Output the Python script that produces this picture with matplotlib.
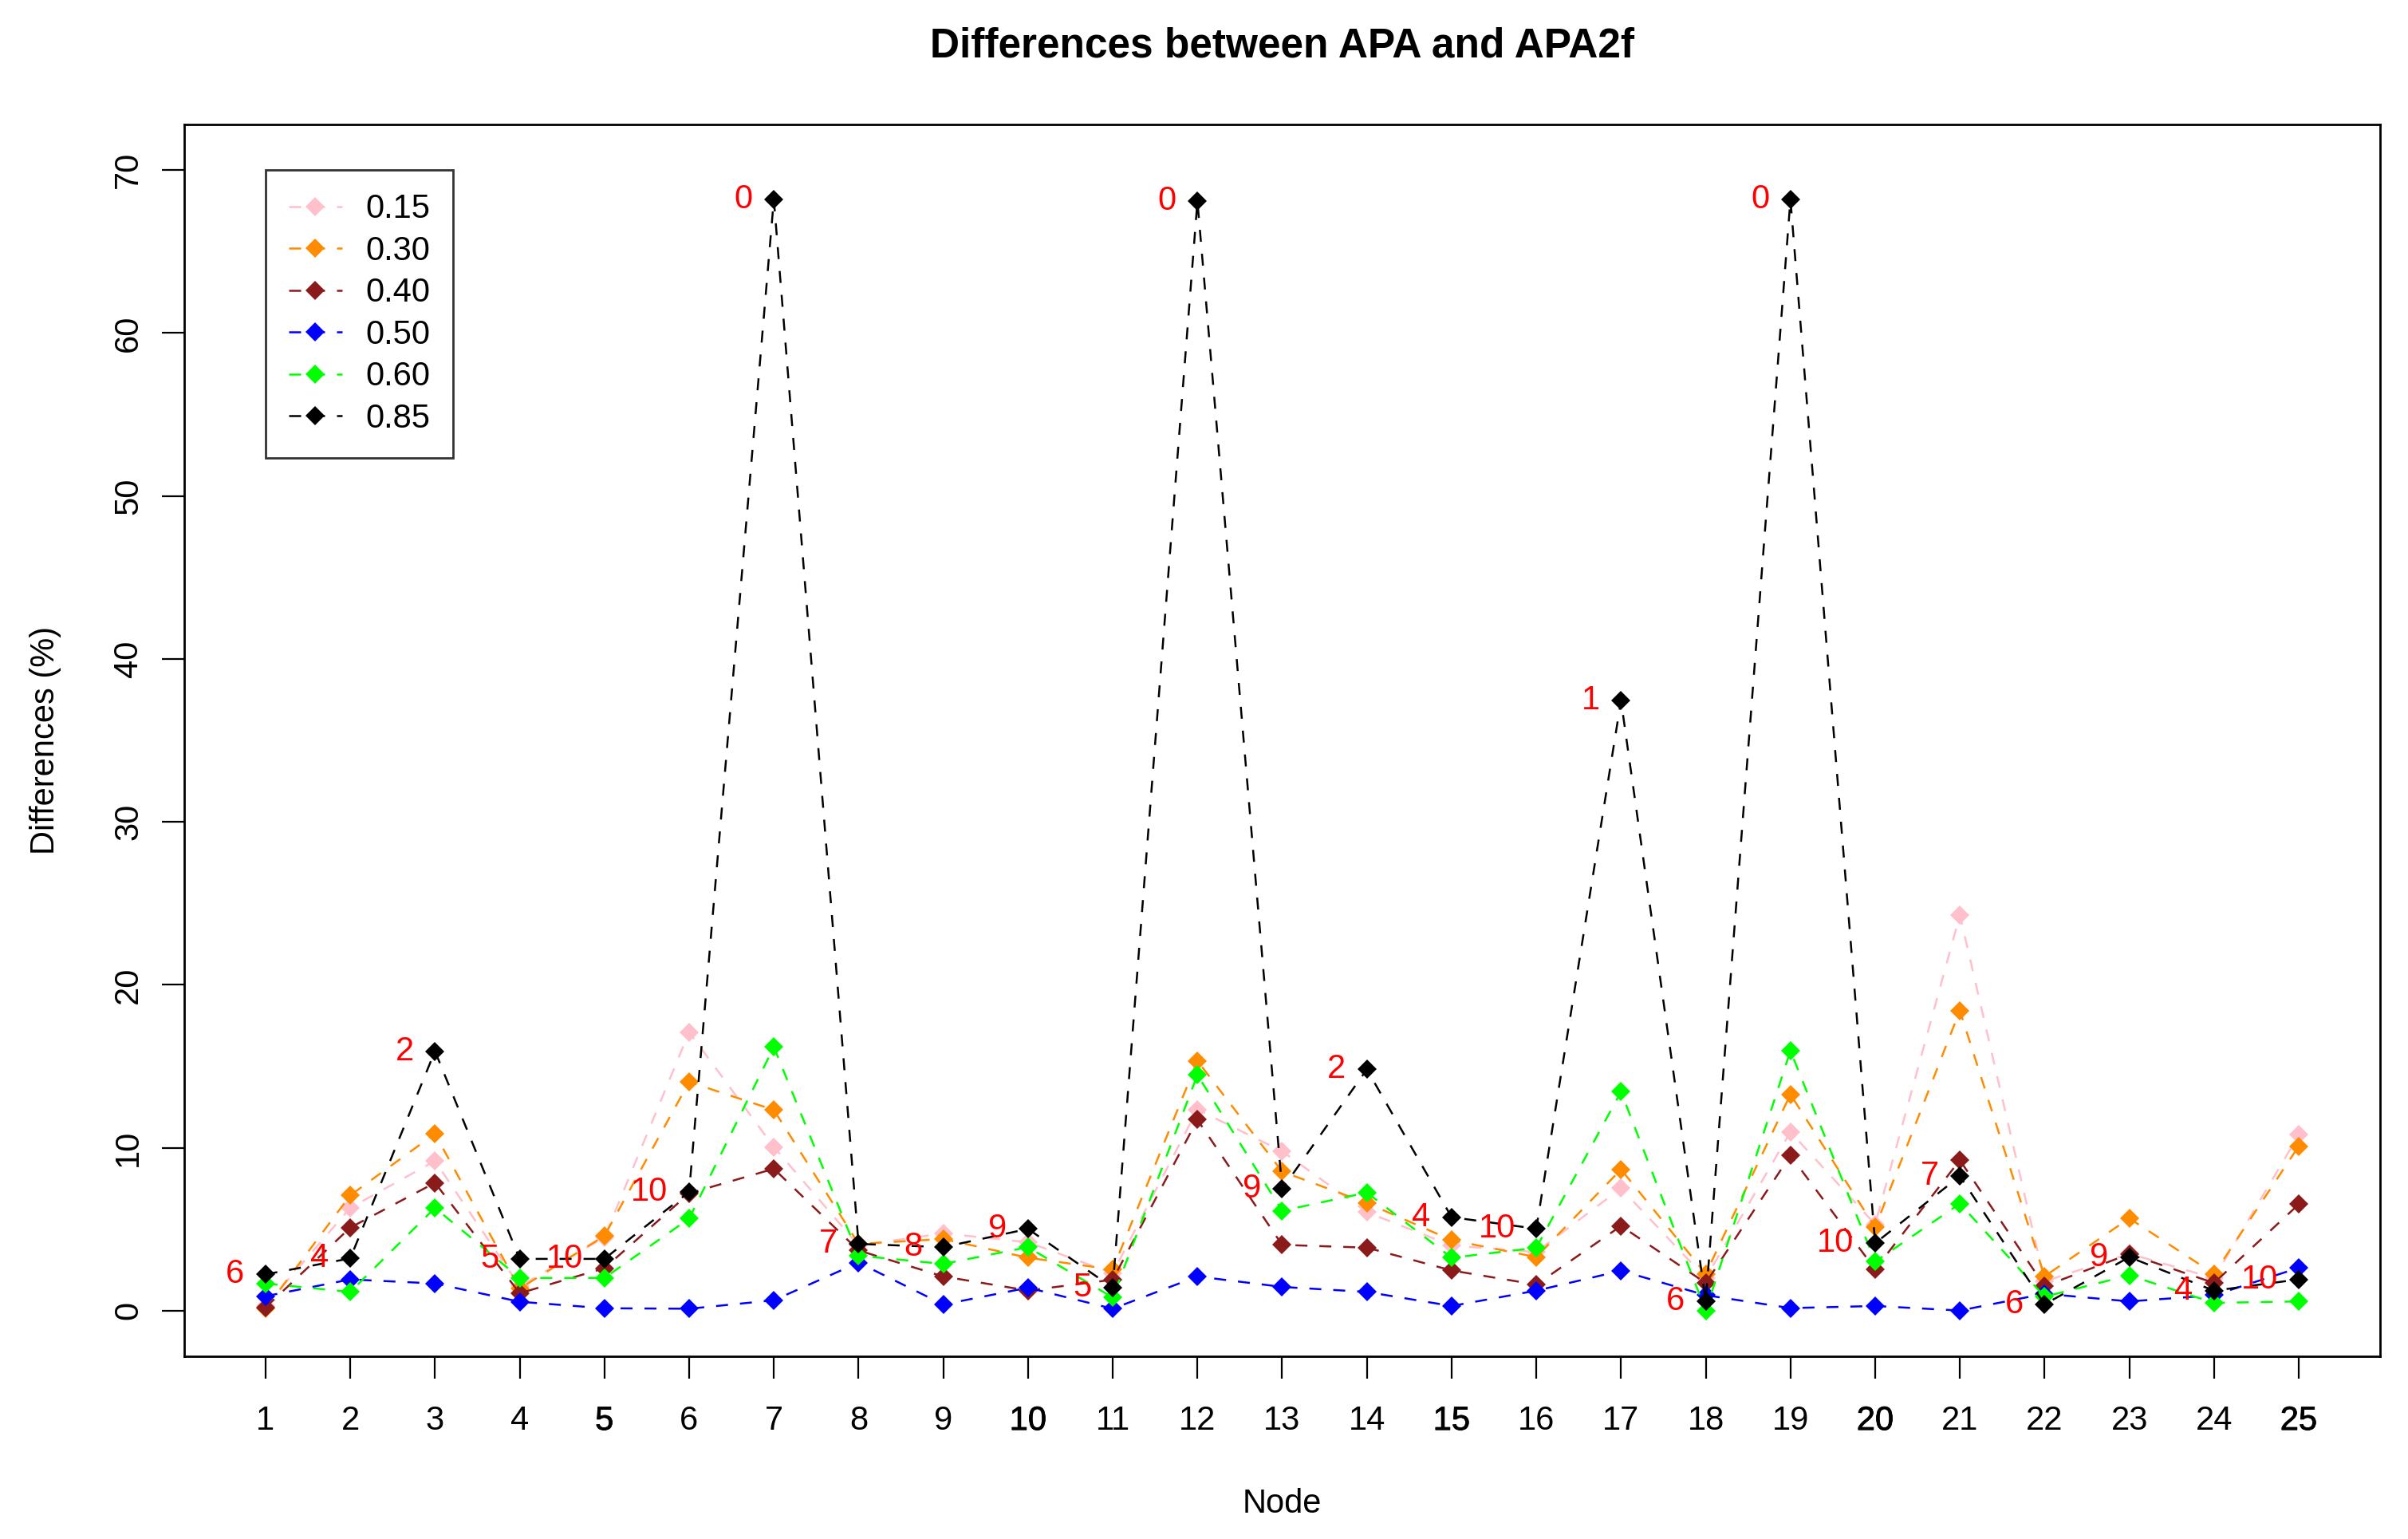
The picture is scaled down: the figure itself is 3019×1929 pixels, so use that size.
import matplotlib
matplotlib.use("Agg")
import matplotlib.pyplot as plt
import matplotlib.patheffects as pe

plt.rcParams['font.family'] = ['Liberation Sans', 'DejaVu Sans']

# values
nodes = list(range(1, 26))
thresholds = ['0.15', '0.30', '0.40', '0.50', '0.60', '0.85']
colours = ['pink', 'darkorange', '#8B1A1A', 'blue', '#00FF00', 'black']

diff_015 = [0.3, 6.31, 9.19, 1.5, 4.5, 17.1, 10.05, 4.0, 4.75, 4.2, 2.3, 12.35, 9.78,
            6.05, 4.0, 3.6, 7.51, 2.0, 10.97, 5.3, 24.28, 1.8, 3.5, 2.0, 10.79]
diff_030 = [0.12, 7.08, 10.86, 1.36, 4.59, 14.04, 12.32, 4.1, 4.4, 3.25, 2.53, 15.33, 8.54,
            6.61, 4.33, 3.29, 8.67, 2.26, 13.28, 5.11, 18.42, 2.11, 5.67, 2.26, 10.1]
diff_040 = [0.2, 5.10, 7.85, 1.07, 2.61, 7.2, 8.71, 3.7, 2.1, 1.24, 1.9, 11.72, 4.04,
            3.87, 2.47, 1.6, 5.2, 1.7, 9.53, 2.54, 9.24, 1.51, 3.48, 1.7, 6.53]
diff_050 = [0.89, 1.92, 1.67, 0.55, 0.15, 0.12, 0.64, 2.95, 0.38, 1.41, 0.12, 2.1, 1.46,
            1.15, 0.29, 1.23, 2.45, 0.95, 0.16, 0.29, 0.01, 1.04, 0.57, 0.95, 2.63]
diff_060 = [1.67, 1.15, 6.31, 2.01, 2.01, 5.65, 16.19, 3.38, 2.87, 3.9, 0.81, 14.47, 6.13,
            7.25, 3.25, 3.86, 13.44, 0.01, 15.95, 3.01, 6.57, 0.86, 2.17, 0.48, 0.57]
diff_085 = [2.23, 3.21, 15.93, 3.18, 3.18, 7.29, 68.2, 4.1, 3.9, 5.02, 1.41, 68.1, 7.47,
            14.81, 5.74, 5.03, 37.45, 0.57, 68.2, 4.14, 8.26, 0.39, 3.29, 1.23, 1.92]
point_labels = [6, 4, 2, 5, 10, 10, 0, 7, 8, 9, 5, 0, 9, 2, 4, 10, 1, 6, 0, 10, 7, 6, 9, 4, 10]

series = [diff_015, diff_030, diff_040, diff_050, diff_060, diff_085]

fig = plt.figure(figsize=(30.19, 19.29), dpi=100)
ax = fig.add_axes([0.0765, 0.1187, 0.9119, 0.8004])

for vals, col, lab in zip(series, colours, thresholds):
    ax.plot(nodes, vals, color=col, linestyle=(0, (6, 6)), linewidth=1.8,
            marker='D', markersize=12, markeredgewidth=0, label=lab)

# red numbers to the left of the 0.85 points
for x, y, t in zip(nodes, diff_085, point_labels):
    ax.annotate(str(t), (x, y), xytext=(-19, 0), textcoords='offset points',
                ha='right', va='center', color='red', fontsize=30)

ax.set_xlim(0.04, 25.96)
ax.set_ylim(-2.8, 72.8)
ax.set_xticks(nodes)
ax.set_xticklabels([str(n) for n in nodes])
ax.set_yticks(range(0, 71, 10))
ax.set_yticklabels([str(v) for v in range(0, 71, 10)], rotation=90, va='center')
ax.tick_params(axis='both', length=20, width=1.6, labelsize=30)
ax.tick_params(axis='x', pad=24)
ax.tick_params(axis='y', pad=16)

for lbl in ax.get_xticklabels():
    if int(lbl.get_text()) % 5 == 0:
        lbl.set_path_effects([pe.withStroke(linewidth=0.6, foreground='black')])

for s in ax.spines.values():
    s.set_linewidth(2)

ax.set_title('Differences between APA and APA2f', fontsize=37, fontweight='bold', pad=61)
ax.set_xlabel('Node', fontsize=30, labelpad=46)
ax.set_ylabel('Differences (%)', fontsize=30, labelpad=46)

leg = ax.legend(loc='upper left', bbox_to_anchor=(1, 70), bbox_transform=ax.transData,
                fontsize=30, frameon=True, fancybox=False, edgecolor='black',
                borderaxespad=0, borderpad=0.7, handlelength=1.6, handletextpad=0.7,
                labelspacing=0.3)
leg.get_frame().set_linewidth(2)

fig.savefig('out.png', dpi=100)
